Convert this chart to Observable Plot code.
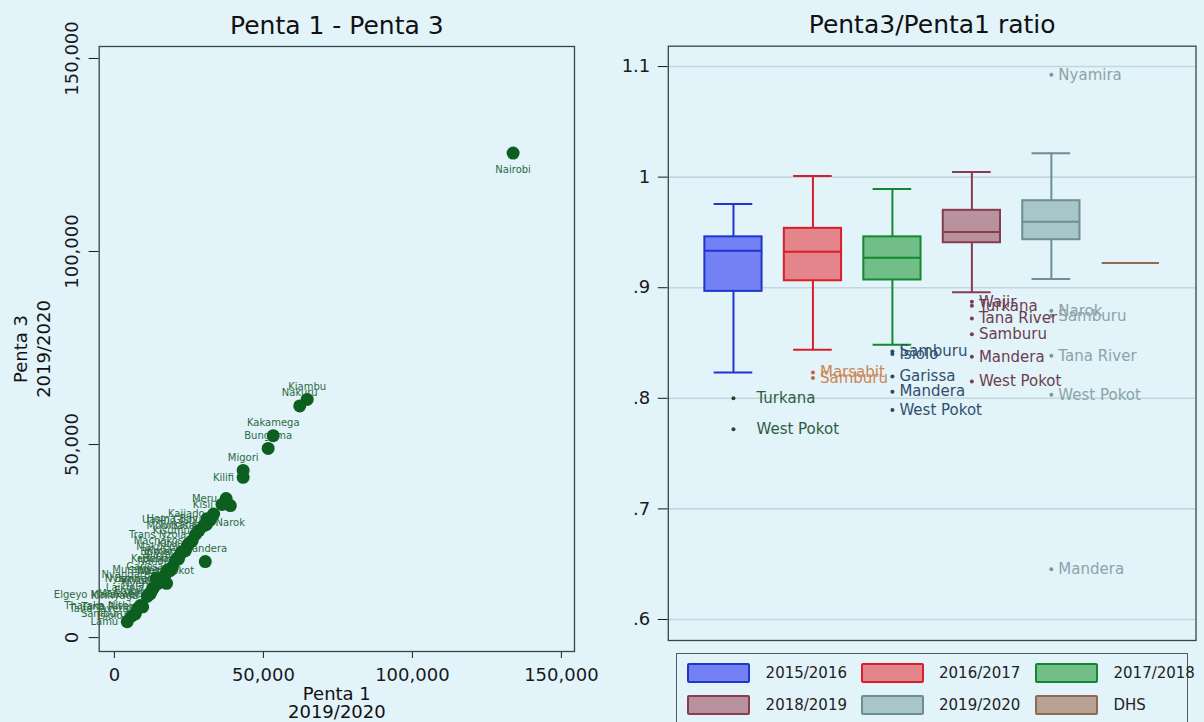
<!DOCTYPE html>
<html>
<head>
<meta charset="utf-8">
<script src="https://cdn.jsdelivr.net/npm/d3@7"></script>
<script src="https://cdn.jsdelivr.net/npm/@observablehq/plot@0.6"></script>
<style>
html, body { margin: 0; padding: 0; background: #e2f3fa; }
#root { position: relative; width: 1204px; height: 722px; overflow: hidden; background: #e2f3fa; font-family: "DejaVu Sans", sans-serif; color: #111; }
.panel { position: absolute; top: 0; }
.legend-box { position: absolute; left: 676px; top: 653px; width: 512px; height: 90px; border: 1.5px solid #4f5a5e; box-sizing: border-box; }
.sw { position: absolute; width: 63px; height: 20px; box-sizing: border-box; border: 2px solid; border-radius: 2px; }
.lt { position: absolute; font-size: 15px; line-height: 20px; color: #222; white-space: nowrap; }
</style>
</head>
<body>
<div id="root"></div>
<script>
// ---------------- DATA ----------------
// Left panel: Penta 1 vs Penta 3, 2019/2020, by county
const counties = ["Nairobi","Kiambu","Nakuru","Kakamega","Bungoma","Migori","Kilifi","Narok","Meru","Kisii",
  "Kajiado","Uasin Gishu","Homa Bay","Turkana","Mombasa","Mandera","Kisumu","Trans Nzoia","Machakos","Kitui",
  "Makueni","Kwale","Bomet","Siaya","Busia","Kericho","Nandi","Garissa","Wajir","Murang'a",
  "West Pokot","Nyandarua","Baringo","Vihiga","Nyeri","Nyamira","Laikipia","Embu","Marsabit","Elgeyo Marakwet",
  "Kirinyaga","Tana River","Tharaka Nithi","Taita Taveta","Samburu","Isiolo","Lamu"];
const penta1 = [133800,64700,62200,53300,51600,43200,43200,38900,37500,36100,
  33300,32200,31100,30900,30000,30500,28300,27200,26100,25000,
  24400,23800,22700,22000,21500,21000,20500,19500,18800,18000,
  17500,17100,16000,15200,14500,14000,13000,12500,12000,11500,
  11000,9500,8700,7800,7000,5800,4300];
const penta3 = [125500,61700,60000,52300,49000,43300,41500,34200,36000,34500,
  32000,30500,30800,29300,29000,19700,27700,26700,25100,24400,
  23600,22500,22300,21400,20400,20300,20000,18300,17400,17600,
  14050,16300,15300,14700,14000,15300,12800,12100,11300,11200,
  10700,7970,8300,7500,6120,5600,4100];
const xTicksLeft = [0, 50000, 100000, 150000];
const yTicksLeft = [0, 50000, 100000, 150000];
const labelAbove = ["Kiambu","Nakuru","Kakamega","Bungoma","Migori","Mandera","West Pokot"];
const labelBelow = ["Nairobi","Narok"];

// Right panel: Penta3/Penta1 ratio box plots
const years = ["2015/2016","2016/2017","2017/2018","2018/2019","2019/2020","DHS"];
const whiskerLow  = [0.8234, 0.8440, 0.8484, 0.8958, 0.9079, 0.9224];
const boxQ1       = [0.8967, 0.9063, 0.9070, 0.9407, 0.9434, 0.9224];
const boxMedian   = [0.9335, 0.9326, 0.9272, 0.9504, 0.9597, 0.9224];
const boxQ3       = [0.9460, 0.9537, 0.9460, 0.9700, 0.9787, 0.9224];
const whiskerHigh = [0.9757, 1.0010, 0.9893, 1.0047, 1.0216, 0.9224];
const outlierYear = [1,1, 2,2, 3,3,3,3,3, 4,4,4,4,4,4, 5,5,5,5,5,5];
const outlierCounty = ["Turkana","West Pokot",
  "Marsabit","Samburu",
  "Samburu","Isiolo","Garissa","Mandera","West Pokot",
  "Wajir","Turkana","Tana River","Samburu","Mandera","West Pokot",
  "Nyamira","Narok","Samburu","Tana River","West Pokot","Mandera"];
const outlierRatio = [0.800,0.772,
  0.8234,0.8183,
  0.8424,0.8400,0.8198,0.8060,0.7894,
  0.8873,0.8837,0.8722,0.8580,0.8376,0.8152,
  1.0925,0.8792,0.8747,0.8385,0.8032,0.6454];
const yTicksRight = [0.6, 0.7, 0.8, 0.9, 1, 1.1];

// ---------------- STYLE ----------------
const FONT = "DejaVu Sans";
const boxFill   = ["#7481f5","#e4848b","#72be88","#b8929c","#a8c5c7","#b8a295"];
const boxStroke = ["#1f36cc","#d71f2a","#13892f","#873c52","#6c8f92","#8f6a50"];
const outDot    = ["#1f4d2c","#c9603c","#2b4a66","#7a3c50","#7d989d"];
const outText   = ["#2e5e3d","#cc8752","#30506b","#6d3d4d","#8ba3a8"];
const frameColor = "#38454b";

// ---------------- TABLES ----------------
const scatter = counties.map((c, i) => ({county: c, p1: penta1[i], p3: penta3[i]}));
const boxes = years.map((y, i) => ({i: i + 1, year: y, lo: whiskerLow[i], q1: boxQ1[i], med: boxMedian[i], q3: boxQ3[i], hi: whiskerHigh[i]}));
const outliers = outlierCounty.map((c, k) => ({g: outlierYear[k], county: c, v: outlierRatio[k]}));
const fmtComma = d3.format(",");
const fmtStata = d => (d >= 1 ? String(d) : String(d).replace(/^0/, ""));

const root = document.getElementById("root");

// ---------------- LEFT PANEL ----------------
const isAbove = d => labelAbove.includes(d.county);
const isBelow = d => labelBelow.includes(d.county);
const left = Plot.plot({
  width: 600, height: 722,
  marginLeft: 98.7, marginRight: 26, marginTop: 46, marginBottom: 71,
  style: {background: "transparent", fontFamily: FONT, fontSize: "18px", color: "#1a1a1a"},
  x: {domain: [-5100, 154400], ticks: xTicksLeft, tickFormat: fmtComma, tickSize: 7, tickPadding: 10, label: null},
  y: {domain: [-3600, 153100], ticks: yTicksLeft, tickFormat: () => "", tickSize: 10, label: null},
  marks: [
    Plot.frame({stroke: frameColor, strokeWidth: 1.3}),
    Plot.text(yTicksLeft, {y: d => d, text: d => fmtComma(d), frameAnchor: "left", dx: -26.5, rotate: -90, textAnchor: "middle", lineAnchor: "middle", fontSize: 18, fill: "#1a1a1a"}),
    Plot.text(["Penta 1 - Penta 3"], {frameAnchor: "top", dy: -13, lineAnchor: "bottom", fontSize: 25, fill: "#111"}),
    Plot.text(["Penta 1"], {frameAnchor: "bottom", dy: 48, lineAnchor: "bottom", fontSize: 18, fill: "#111"}),
    Plot.text(["2019/2020"], {frameAnchor: "bottom", dy: 66, lineAnchor: "bottom", fontSize: 18, fill: "#111"}),
    Plot.text(["Penta 3"], {frameAnchor: "left", dx: -72.7, rotate: -90, textAnchor: "middle", lineAnchor: "bottom", fontSize: 18, fill: "#111"}),
    Plot.text(["2019/2020"], {frameAnchor: "left", dx: -48.7, rotate: -90, textAnchor: "middle", lineAnchor: "bottom", fontSize: 18, fill: "#111"}),
    Plot.text(scatter.filter(d => !isAbove(d) && !isBelow(d)), {x: "p1", y: "p3", text: "county", textAnchor: "end", dx: -9, fontSize: 10, fill: "#2d6a3e"}),
    Plot.text(scatter.filter(isAbove), {x: "p1", y: "p3", text: "county", dy: -13, fontSize: 10, fill: "#2d6a3e"}),
    Plot.text(scatter.filter(isBelow), {x: "p1", y: "p3", text: "county", dy: 17, fontSize: 10, fill: "#2d6a3e"}),
    Plot.dot(scatter, {x: "p1", y: "p3", r: 6.5, fill: "#0c5f1e", stroke: "none"})
  ]
});
const leftDiv = document.createElement("div");
leftDiv.className = "panel";
leftDiv.style.left = "0px";
leftDiv.appendChild(left);
root.appendChild(leftDiv);

// ---------------- RIGHT PANEL ----------------
const nonDHS = boxes.filter(d => d.year !== "DHS");
const right = Plot.plot({
  width: 604, height: 722,
  marginLeft: 67.8, marginRight: 8.5, marginTop: 45.7, marginBottom: 82,
  style: {background: "transparent", fontFamily: FONT, fontSize: "18px", color: "#1a1a1a"},
  x: {type: "linear", domain: [0.18, 6.82], axis: null},
  y: {domain: [0.581, 1.1184], ticks: yTicksRight, tickFormat: fmtStata, tickSize: 10, tickPadding: 8, label: null},
  marks: [
    Plot.ruleY(yTicksRight, {stroke: "#c4d7df", strokeWidth: 1.6}),
    Plot.frame({stroke: frameColor, strokeWidth: 1.3}),
    Plot.text(["Penta3/Penta1 ratio"], {frameAnchor: "top", dy: -13, lineAnchor: "bottom", fontSize: 25, fill: "#111"}),
    Plot.ruleX(nonDHS, {x: "i", y1: "lo", y2: "q1", stroke: d => boxStroke[d.i - 1], strokeWidth: 2}),
    Plot.ruleX(nonDHS, {x: "i", y1: "q3", y2: "hi", stroke: d => boxStroke[d.i - 1], strokeWidth: 2}),
    Plot.ruleY(nonDHS, {x1: d => d.i - 0.243, x2: d => d.i + 0.243, y: "lo", stroke: d => boxStroke[d.i - 1], strokeWidth: 2}),
    Plot.ruleY(nonDHS, {x1: d => d.i - 0.243, x2: d => d.i + 0.243, y: "hi", stroke: d => boxStroke[d.i - 1], strokeWidth: 2}),
    Plot.rect(nonDHS, {x1: d => d.i - 0.36, x2: d => d.i + 0.36, y1: "q1", y2: "q3", fill: d => boxFill[d.i - 1], stroke: d => boxStroke[d.i - 1], strokeWidth: 2}),
    Plot.ruleY(boxes, {x1: d => d.i - 0.36, x2: d => d.i + 0.36, y: "med", stroke: d => boxStroke[d.i - 1], strokeWidth: 2}),
    Plot.dot(outliers, {x: "g", y: "v", r: 2, fill: d => outDot[d.g - 1], stroke: "none"}),
    Plot.text(outliers.filter(d => d.g === 1), {x: "g", y: "v", text: "county", textAnchor: "start", dx: 23, fontSize: 15, fill: d => outText[d.g - 1]}),
    Plot.text(outliers.filter(d => d.g !== 1), {x: "g", y: "v", text: "county", textAnchor: "start", dx: 7, fontSize: 15, fill: d => outText[d.g - 1]})
  ]
});
const rightDiv = document.createElement("div");
rightDiv.className = "panel";
rightDiv.style.left = "600px";
rightDiv.appendChild(right);
root.appendChild(rightDiv);

// ---------------- LEGEND ----------------
const legendBox = document.createElement("div");
legendBox.className = "legend-box";
root.appendChild(legendBox);
const colSw = [686.7, 860.8, 1035.3];
const colTx = [765.6, 939, 1113.5];
const rowTop = [662.7, 695.3];
years.forEach((y, i) => {
  const c = i % 3, r = Math.floor(i / 3);
  const sw = document.createElement("div");
  sw.className = "sw";
  sw.style.left = colSw[c] + "px";
  sw.style.top = rowTop[r] + "px";
  sw.style.background = boxFill[i];
  sw.style.borderColor = boxStroke[i];
  root.appendChild(sw);
  const t = document.createElement("div");
  t.className = "lt";
  t.style.left = colTx[c] + "px";
  t.style.top = rowTop[r] + "px";
  t.textContent = y;
  root.appendChild(t);
});
</script>
</body>
</html>
